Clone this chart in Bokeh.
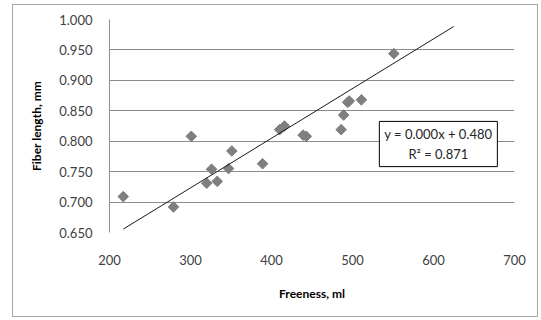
from bokeh.plotting import figure
from bokeh.models import (FixedTicker, NumeralTickFormatter, Label,
                          ColumnDataSource, Range1d)
from bokeh.embed import file_html
from bokeh.resources import INLINE
import numpy as np

# Data
freeness = [217, 279, 301, 320, 326, 333, 347, 351, 389, 410, 416,
            439, 443, 486, 489, 494, 496, 511, 551]
fiber_length = [0.709, 0.692, 0.808, 0.731, 0.754, 0.734, 0.755, 0.784, 0.763,
                0.819, 0.825, 0.810, 0.808, 0.819, 0.843, 0.864, 0.866, 0.868, 0.944]

# Linear trendline as drawn (slope/intercept)
trend_slope = 0.000816
trend_intercept = 0.4785
trend_x = [217, 625]

x_ticks = [200, 300, 400, 500, 600, 700]
y_ticks = [0.650, 0.700, 0.750, 0.800, 0.850, 0.900, 0.950, 1.000]
equation_text = "y = 0.000x + 0.480\nR\u00b2 = 0.871"

FONT = "Lato"

OX, OY = 13, 5          # canvas origin on the page (margin + 1px border)
W, H = 526, 313
p = figure(width=W, height=H, output_backend="svg", toolbar_location=None,
           x_range=Range1d(200, 700), y_range=Range1d(0.650, 1.000),
           min_border_left=109 - OX, min_border_right=W - (514 - OX),
           min_border_top=19 - OY, min_border_bottom=H - (232 - OY))
p.styles = {"border": "1px solid #a6a6a6", "margin-left": "12px", "margin-top": "4px"}
p.outline_line_color = None
p.background_fill_color = "white"
p.border_fill_color = "white"

src = ColumnDataSource(dict(x=freeness, y=fiber_length))
p.scatter("x", "y", source=src, marker="square", size=7.5, angle=np.pi / 4,
          fill_color="#7f7f7f", line_color="#7f7f7f")

ty = [trend_slope * v + trend_intercept for v in trend_x]
p.line(trend_x, ty, line_color="#1a1a1a", line_width=1)

# axes
p.xaxis.ticker = FixedTicker(ticks=x_ticks)
p.yaxis.ticker = FixedTicker(ticks=y_ticks)
p.yaxis.formatter = NumeralTickFormatter(format="0.000")
for ax in (p.xaxis, p.yaxis):
    ax.major_tick_line_color = None
    ax.minor_tick_line_color = None
    ax.major_tick_out = 0
    ax.major_tick_in = 0
    ax.major_label_text_font = FONT
    ax.major_label_text_font_size = "13px"
    ax.major_label_text_color = "#404040"
    ax.axis_label_text_font = FONT
    ax.axis_label_text_font_size = "12px"
    ax.axis_label_text_font_style = "bold"
    ax.axis_label_text_color = "#000000"
p.xaxis.axis_line_color = None
p.yaxis.axis_line_color = "#8c8c8c"
p.xaxis.major_label_standoff = 22
p.yaxis.major_label_standoff = 17
p.xaxis.axis_label = "Freeness, ml"
p.yaxis.axis_label = "Fiber length, mm"
p.xaxis.axis_label_standoff = 18
p.yaxis.axis_label_standoff = 12

p.xgrid.grid_line_color = None
p.ygrid.grid_line_color = "#8c8c8c"
p.ygrid.grid_line_width = 1

lab = Label(x=606, y=0.7954, text=equation_text, text_align="center",
            text_baseline="middle", text_font=FONT, text_font_size="13px",
            text_color="#262626", border_line_color="#000000",
            background_fill_color="white", padding=5)
p.add_layout(lab)

open("out.html", "w").write(file_html(p, INLINE))
